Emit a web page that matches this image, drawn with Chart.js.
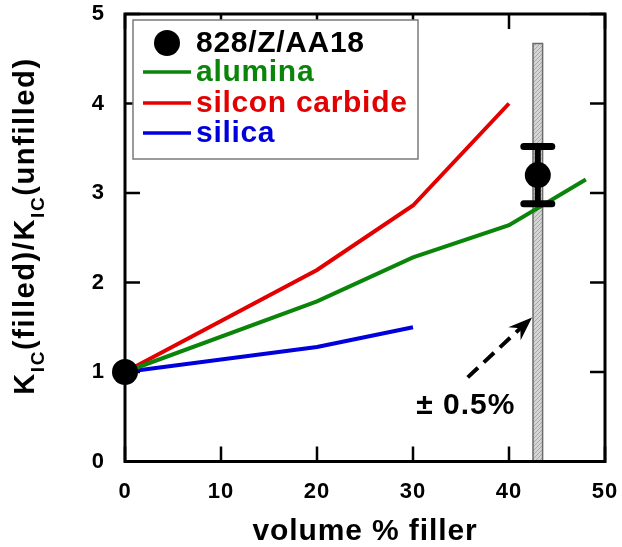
<!DOCTYPE html>
<html>
<head>
<meta charset="utf-8">
<script src="https://cdn.jsdelivr.net/npm/chart.js@4.4.0/dist/chart.umd.min.js"></script>
<style>
  html, body { margin: 0; padding: 0; background: #fff; }
</style>
</head>
<body>
<canvas id="myChart" width="622" height="547"></canvas>
<script>
// volume % filler vs KIC ratio, one array per series
var aluminaX = [0, 20, 30, 40, 48];
var aluminaY = [1, 1.79, 2.28, 2.64, 3.15];
var carbideX = [0, 20, 30, 40];
var carbideY = [1, 2.14, 2.86, 4.0];
var silicaX = [0, 20, 30];
var silicaY = [1, 1.28, 1.5];

// measured 828/Z/AA18 points and their error bars
var sampleX = [0, 43];
var sampleY = [1, 3.2];
var sampleLow = [null, 2.88];
var sampleHigh = [null, 3.52];

// the +-0.5% band, the arrow pointing at it and its note
var bandX = [42.5, 43.5];
var bandTop = 4.67;
var arrowX = [35.7, 42.4];
var arrowY = [0.94, 1.61];
var noteText = '± 0.5%';
var noteX = 35.5;
var noteY = 0.62;

var xTicks = [0, 10, 20, 30, 40, 50];
var yTicks = [0, 1, 2, 3, 4, 5];

var FONT = "'Liberation Sans', Arial, Helvetica, sans-serif";
Chart.defaults.font.family = FONT;
Chart.defaults.color = '#000';

const ctx = document.getElementById('myChart');

const toPts = (xs, ys) => xs.map((x, i) => ({ x: x, y: ys[i] }));

const makeHatch = () => {
  const c = document.createElement('canvas');
  c.width = 4; c.height = 4;
  const g = c.getContext('2d');
  g.fillStyle = '#d4d4d4';
  g.fillRect(0, 0, 4, 4);
  g.fillStyle = '#a9a9a9';
  for (let i = 0; i < 4; i++) g.fillRect(i, 3 - i, 1, 1);
  return g.createPattern(c, 'repeat');
};

const bandPts = [
  { x: bandX[0], y: 0 }, { x: bandX[0], y: bandTop },
  { x: bandX[1], y: bandTop }, { x: bandX[1], y: 0 }
];

// the reference type is a bit wider than Liberation Sans
const spacingPlugin = {
  id: 'spacing',
  beforeDraw(chart) { chart.ctx.letterSpacing = '0.9px'; }
};

// frame with inward ticks on all four sides
const framePlugin = {
  id: 'frame',
  afterDatasetsDraw(chart) {
    const c = chart.ctx, a = chart.chartArea;
    const xs = chart.scales.x, ys = chart.scales.y;
    const tl = 15;
    c.save();
    c.strokeStyle = '#000';
    c.lineWidth = 2.5;
    c.beginPath();
    xTicks.forEach(v => {
      const px = xs.getPixelForValue(v);
      c.moveTo(px, a.bottom); c.lineTo(px, a.bottom - tl);
      c.moveTo(px, a.top); c.lineTo(px, a.top + tl);
    });
    yTicks.forEach(v => {
      const py = ys.getPixelForValue(v);
      c.moveTo(a.left, py); c.lineTo(a.left + tl, py);
      c.moveTo(a.right, py); c.lineTo(a.right - tl, py);
    });
    c.stroke();
    c.lineWidth = 3;
    c.strokeRect(a.left, a.top, a.right - a.left, a.bottom - a.top);
    c.restore();
  }
};

// error bars, arrow head, note, legend and y title
const extrasPlugin = {
  id: 'extras',
  afterDatasetsDraw(chart) {
    const c = chart.ctx;
    const xs = chart.scales.x, ys = chart.scales.y;
    c.save();

    // error bars
    c.strokeStyle = '#000';
    c.lineCap = 'round';
    sampleX.forEach((x, i) => {
      if (sampleLow[i] == null) return;
      const px = xs.getPixelForValue(x);
      const lo = ys.getPixelForValue(sampleLow[i]);
      const hi = ys.getPixelForValue(sampleHigh[i]);
      c.lineWidth = 6;
      c.beginPath(); c.moveTo(px, lo); c.lineTo(px, hi); c.stroke();
      c.lineWidth = 7;
      c.beginPath();
      c.moveTo(px - 14, lo); c.lineTo(px + 14, lo);
      c.moveTo(px - 14, hi); c.lineTo(px + 14, hi);
      c.stroke();
    });

    // arrow head
    const x0 = xs.getPixelForValue(arrowX[0]), y0 = ys.getPixelForValue(arrowY[0]);
    const x1 = xs.getPixelForValue(arrowX[1]), y1 = ys.getPixelForValue(arrowY[1]);
    const ang = Math.atan2(y1 - y0, x1 - x0);
    c.translate(x1, y1);
    c.rotate(ang);
    c.fillStyle = '#000';
    c.beginPath();
    c.moveTo(0, 0);
    c.lineTo(-24, -9);
    c.lineTo(-16, 0);
    c.lineTo(-24, 9);
    c.closePath();
    c.fill();
    c.setTransform(1, 0, 0, 1, 0, 0);

    // note
    c.letterSpacing = '1px';
    c.font = 'bold 30px ' + FONT;
    c.textAlign = 'center';
    c.textBaseline = 'middle';
    c.fillText(noteText, xs.getPixelForValue(noteX), ys.getPixelForValue(noteY));

    // legend box
    c.fillStyle = '#fff';
    c.fillRect(133, 20, 285, 139);
    c.strokeStyle = '#7a7a7a';
    c.lineWidth = 1.5;
    c.strokeRect(133, 20, 285, 139);
    const ds = chart.data.datasets;
    const rows = [
      { d: ds[4], y: 43, dot: true },
      { d: ds[1], y: 72 },
      { d: ds[2], y: 103 },
      { d: ds[3], y: 133 }
    ];
    c.letterSpacing = '0.7px';
    c.textAlign = 'left';
    rows.forEach(r => {
      if (r.dot) {
        c.fillStyle = '#000';
        c.beginPath(); c.arc(167, r.y, 13, 0, Math.PI * 2); c.fill();
      } else {
        c.strokeStyle = r.d.borderColor;
        c.lineWidth = 3.5;
        c.lineCap = 'butt';
        c.beginPath(); c.moveTo(143, r.y); c.lineTo(191, r.y); c.stroke();
      }
      c.fillStyle = r.dot ? '#000' : r.d.borderColor;
      c.fillText(r.d.label, 196, r.y + 1);
    });

    // y title with subscripts
    const runs = [
      ['K', false], ['IC', true], ['(filled)/K', false], ['IC', true], ['(unfilled)', false]
    ];
    const big = 'bold 29px ' + FONT, small = 'bold 19px ' + FONT;
    c.letterSpacing = '1.6px';
    let total = 0;
    runs.forEach(r => { c.font = r[1] ? small : big; total += c.measureText(r[0]).width; });
    c.translate(34, 226 + total / 2);
    c.rotate(-Math.PI / 2);
    c.textAlign = 'left';
    c.textBaseline = 'alphabetic';
    c.fillStyle = '#000';
    let pos = 0;
    runs.forEach(r => {
      c.font = r[1] ? small : big;
      c.fillText(r[0], pos, r[1] ? 10 : 0);
      pos += c.measureText(r[0]).width;
    });
    c.restore();
  }
};

const myChart = new Chart(ctx, {
  type: 'line',
  data: {
    datasets: [
      {
        label: 'band',
        data: bandPts,
        borderColor: '#6a6a6a',
        borderWidth: 1.5,
        backgroundColor: makeHatch(),
        fill: 'origin',
        pointRadius: 0,
        order: 10
      },
      {
        label: 'alumina',
        data: toPts(aluminaX, aluminaY),
        borderColor: '#0a850a',
        borderWidth: 4,
        pointRadius: 0,
        order: 5
      },
      {
        label: 'silcon carbide',
        data: toPts(carbideX, carbideY),
        borderColor: '#e30000',
        borderWidth: 4,
        pointRadius: 0,
        order: 5
      },
      {
        label: 'silica',
        data: toPts(silicaX, silicaY),
        borderColor: '#0000dc',
        borderWidth: 4,
        pointRadius: 0,
        order: 5
      },
      {
        label: '828/Z/AA18',
        data: toPts(sampleX, sampleY),
        showLine: false,
        pointRadius: 13,
        pointBackgroundColor: '#000',
        pointBorderWidth: 0,
        clip: false,
        order: 1
      },
      {
        label: 'arrow',
        data: toPts(arrowX, arrowY),
        borderColor: '#000',
        borderWidth: 4,
        borderDash: [14, 8],
        pointRadius: 0,
        order: 2
      }
    ]
  },
  options: {
    responsive: false,
    animation: false,
    events: [],
    layout: { padding: { top: 14, right: 17, left: 0, bottom: 0 } },
    plugins: { legend: { display: false }, tooltip: { enabled: false } },
    scales: {
      x: {
        type: 'linear',
        min: 0,
        max: 50,
        afterBuildTicks: s => { s.ticks = xTicks.map(v => ({ value: v })); },
        afterFit: s => { s.height = 85.5; s.paddingLeft = 0; s.paddingRight = 0; },
        grid: { display: false, drawTicks: false },
        border: { display: false },
        ticks: { font: { size: 22, weight: 'bold' }, color: '#000', padding: 17, maxRotation: 0 },
        title: {
          display: true,
          text: 'volume % filler',
          font: { size: 30, weight: 'bold', lineHeight: 1 },
          color: '#000',
          padding: { top: 0, bottom: 0 }
        }
      },
      y: {
        type: 'linear',
        min: 0,
        max: 5,
        afterBuildTicks: s => { s.ticks = yTicks.map(v => ({ value: v })); },
        afterFit: s => { s.width = 125; s.paddingTop = 0; s.paddingBottom = 0; },
        grid: { display: false, drawTicks: false },
        border: { display: false },
        ticks: { font: { size: 22, weight: 'bold' }, color: '#000', padding: 20 }
      }
    }
  },
  plugins: [spacingPlugin, framePlugin, extrasPlugin]
});
</script>
</body>
</html>
